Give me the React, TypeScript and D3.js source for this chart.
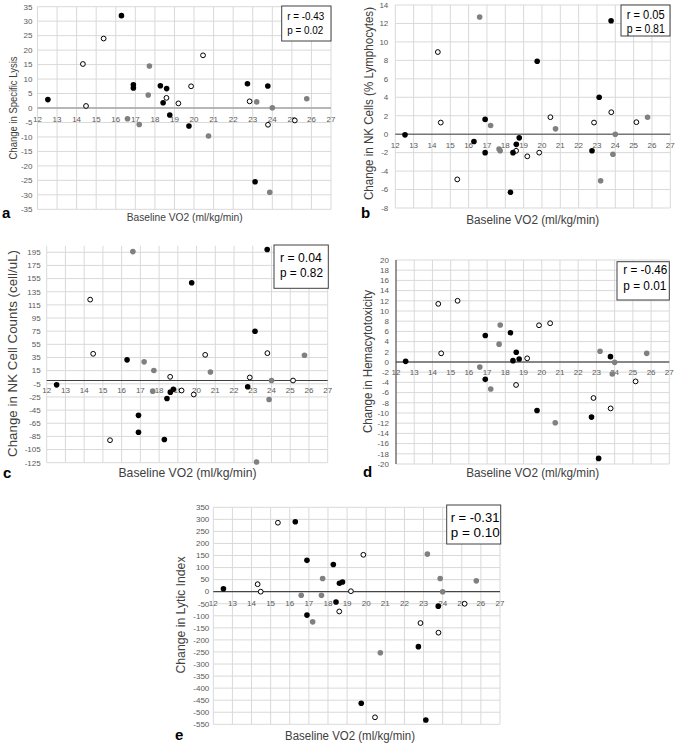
import React from "react";
import * as d3 from "d3";

// ---- Data ----
const X_TICKS = [12, 13, 14, 15, 16, 17, 18, 19, 20, 21, 22, 23, 24, 25, 26, 27];

// Baseline VO2 per subject group
const VO2_BLACK = [12.53, 16.29, 16.9, 16.9, 18.28, 18.42, 18.6, 18.76, 19.74, 22.73, 23.12, 23.77];
const VO2_GRAY = [16.6, 17.2, 17.66, 17.72, 20.74, 23.2, 23.87, 24.0, 25.76];
const VO2_OPEN = [14.32, 14.48, 15.38, 18.59, 19.2, 19.85, 20.46, 22.84, 23.78, 25.15];

// a: Change in Specific Lysis
const LYSIS_BLACK = [2.9, 31.9, 8.0, 6.9, 7.7, 1.8, 6.7, -2.4, -6.2, 8.4, -25.5, 7.6];
const LYSIS_GRAY = [-3.7, -5.7, 4.5, 14.5, -9.7, 2.1, -29.1, 0.1, 3.2];
const LYSIS_OPEN = [15.2, 0.7, 24.0, 3.5, 1.6, 7.5, 18.2, 2.3, -5.8, -4.3];
const LYSIS_TICKS = [-35, -30, -25, -20, -15, -10, -5, 0, 5, 10, 15, 20, 25, 30, 35];

// b: Change in NK Cells (% Lymphocytes)
const NKPCT_BLACK = [-0.07, -0.8, 1.6, -2.0, -6.3, -2.0, -1.1, -0.4, 7.9, -1.8, 4.0, 12.3];
const NKPCT_GRAY = [12.7, 0.94, -1.6, -1.8, 0.58, -5.05, -2.17, 0.0, 1.84];
const NKPCT_OPEN = [8.9, 1.26, -4.9, -1.8, -2.4, -2.0, 1.84, 1.26, 2.38, 1.3];
const NKPCT_TICKS = [-8, -6, -4, -2, 0, 2, 4, 6, 8, 10, 12, 14];

// c: Change in NK Cell Counts (cell/uL)
const NKCNT_BLACK = [-6.6, 31.4, -53, -78.6, -89.8, -27.4, -17.7, -13.2, 148.6, -9.6, 75, 199.3];
const NKCNT_GRAY = [196, 28.4, -16.2, 15.2, 13, -124, -29, 0, 38.5];
const NKCNT_OPEN = [123, 40.6, -90.8, 5.6, -15.2, -21.3, 39, 4.6, 41.6, 0];
const NKCNT_TICKS = [-125, -105, -85, -65, -45, -25, -5, 15, 35, 55, 75, 95, 115, 135, 155, 175, 195];

// d: Change in Hemacytotoxicity
const HEMA_BLACK = [0.13, null, 5.2, -3.4, 5.75, 0.26, 1.9, 0.6, -9.5, -10.8, -18.9, 1.05];
const HEMA_GRAY = [-1.0, -5.3, 3.5, 7.25, -11.9, 2.1, -2.35, -0.07, 1.7];
const HEMA_OPEN = [11.4, 1.7, 12.0, -4.5, 0.72, 7.2, 7.6, -7.06, -9.1, -3.8];
const HEMA_TICKS = [-20, -18, -16, -14, -12, -10, -8, -6, -4, -2, 0, 2, 4, 6, 8, 10, 12, 14, 16, 18, 20];

// e: Change in Lytic Index
const LYTIC_BLACK = [12, 290, 130, -97, 113, -43, 35, 40, -463, -228, -532, -60];
const LYTIC_GRAY = [-15, -125, -15, 55, -253, 156, 55, 0, 45];
const LYTIC_OPEN = [31, 0, 286, -82, 2, 153, -521, -130, -170, -50];
const LYTIC_TICKS = [-550, -500, -450, -400, -350, -300, -250, -200, -150, -100, -50, 0, 50, 100, 150, 200, 250, 300, 350];

const STATS = [
  { r: "r = -0.43", p: "p = 0.02" },
  { r: "r = 0.05", p: "p = 0.81" },
  { r: "r = 0.04", p: "p = 0.82" },
  { r: "r = -0.46", p: "p = 0.01" },
  { r: "r = -0.31", p: "p = 0.10" },
];

const X_TITLE = "Baseline VO2 (ml/kg/min)";

// ---- Layout ----
const FONT = "'Liberation Sans', Arial, sans-serif";

type PanelCfg = {
  letter: string;
  yTitle: string;
  black: (number | null)[];
  gray: number[];
  open: number[];
  yTicks: number[];
  stats: { r: string; p: string };
  x0: number; x1: number;
  yDom: [number, number]; yRange: [number, number];
  zeroColor: string; zeroWidth: number; leftAxis: boolean;
  yLabOff: number; xLabOff: number;
  xt: { cx: number; y: number; len: number; fs: number };
  yt: { x: number; cy: number; len: number; fs: number };
  lbl: { x: number; y: number };
  box: { x0: number; y0: number; x1: number; y1: number; tx: number; b1: number; b2: number; fs: number; rl: number; pl: number };
};

const PANELS: PanelCfg[] = [
  {
    letter: "a", yTitle: "Change in Specific Lysis",
    black: LYSIS_BLACK, gray: LYSIS_GRAY, open: LYSIS_OPEN, yTicks: LYSIS_TICKS, stats: STATS[0],
    x0: 37.5, x1: 331, yDom: [-35, 35], yRange: [209.3, 6.7],
    zeroColor: "#a6a6a6", zeroWidth: 1.6, leftAxis: false, yLabOff: 5, xLabOff: 13.5,
    xt: { cx: 184.7, y: 221, len: 116, fs: 11 },
    yt: { x: 16.5, cy: 108, len: 103, fs: 11 },
    lbl: { x: 2, y: 218 },
    box: { x0: 281.7, y0: 6, x1: 331, y1: 41, tx: 287.3, b1: 19.5, b2: 34, fs: 11.5, rl: 37, pl: 36 },
  },
  {
    letter: "b", yTitle: "Change in NK Cells (% Lymphocytes)",
    black: NKPCT_BLACK, gray: NKPCT_GRAY, open: NKPCT_OPEN, yTicks: NKPCT_TICKS, stats: STATS[1],
    x0: 395.3, x1: 670.3, yDom: [-8, 14], yRange: [208, 5],
    zeroColor: "#404040", zeroWidth: 1, leftAxis: false, yLabOff: 7, xLabOff: 14.3,
    xt: { cx: 532.7, y: 224, len: 133, fs: 12.5 },
    yt: { x: 373, cy: 103.5, len: 193, fs: 12 },
    lbl: { x: 361, y: 218 },
    box: { x0: 621, y0: 5, x1: 670, y1: 36, tx: 626.7, b1: 19.3, b2: 32.7, fs: 12, rl: 38, pl: 38 },
  },
  {
    letter: "c", yTitle: "Change in NK Cell Counts (cell/uL)",
    black: NKCNT_BLACK, gray: NKCNT_GRAY, open: NKCNT_OPEN, yTicks: NKCNT_TICKS, stats: STATS[2],
    x0: 46.7, x1: 327.7, yDom: [-125, 205], yRange: [462.7, 245.7],
    zeroColor: "#404040", zeroWidth: 1, leftAxis: false, yLabOff: 6, xLabOff: 12.5,
    xt: { cx: 187.5, y: 476.5, len: 138, fs: 13 },
    yt: { x: 17, cy: 353.5, len: 207, fs: 12.5 },
    lbl: { x: 3, y: 478 },
    box: { x0: 274, y0: 245, x1: 328.3, y1: 288.3, tx: 280, b1: 261.7, b2: 277.3, fs: 13, rl: 41.7, pl: 43 },
  },
  {
    letter: "d", yTitle: "Change in Hemacytotoxicity",
    black: HEMA_BLACK, gray: HEMA_GRAY, open: HEMA_OPEN, yTicks: HEMA_TICKS, stats: STATS[3],
    x0: 396, x1: 669.3, yDom: [-20, 20], yRange: [464, 260],
    zeroColor: "#222222", zeroWidth: 1, leftAxis: true, yLabOff: 7, xLabOff: 13.2,
    xt: { cx: 532.7, y: 477, len: 133, fs: 12.5 },
    yt: { x: 372, cy: 361.5, len: 143, fs: 12 },
    lbl: { x: 363, y: 477 },
    box: { x0: 617, y0: 261.7, x1: 669.3, y1: 300, tx: 623.3, b1: 274.3, b2: 290, fs: 13, rl: 44, pl: 43 },
  },
  {
    letter: "e", yTitle: "Change in Lytic Index",
    black: LYTIC_BLACK, gray: LYTIC_GRAY, open: LYTIC_OPEN, yTicks: LYTIC_TICKS, stats: STATS[4],
    x0: 213.3, x1: 500, yDom: [-550, 350], yRange: [724.3, 507.3],
    zeroColor: "#222222", zeroWidth: 1, leftAxis: false, yLabOff: 4, xLabOff: 14,
    xt: { cx: 350, y: 740, len: 130, fs: 12.5 },
    yt: { x: 184.5, cy: 615, len: 117, fs: 12.5 },
    lbl: { x: 175, y: 740 },
    box: { x0: 446.7, y0: 505, x1: 500.7, y1: 544, tx: 450.7, b1: 521.7, b2: 537.3, fs: 13.5, rl: 48.7, pl: 49 },
  },
];

const R = 2.8;

function Panel({ c }: { c: PanelCfg }) {
  const x = d3.scaleLinear().domain([12, 27]).range([c.x0, c.x1]);
  const y = d3.scaleLinear().domain(c.yDom).range(c.yRange);
  const yTop = c.yRange[1];
  const yBot = c.yRange[0];
  const y0 = y(0);
  const blackPts = VO2_BLACK.map((v, i) => [v, c.black[i]] as [number, number | null]).filter((d) => d[1] !== null) as [number, number][];
  const grayPts = VO2_GRAY.map((v, i) => [v, c.gray[i]] as [number, number]);
  const openPts = VO2_OPEN.map((v, i) => [v, c.open[i]] as [number, number]);
  return (
    <g>
      {/* gridlines */}
      {c.yTicks.map((t) => (
        <line key={"h" + t} x1={c.x0} x2={c.x1} y1={y(t)} y2={y(t)} stroke="#d9d9d9" strokeWidth={1} />
      ))}
      {X_TICKS.map((t) => (
        <line key={"v" + t} x1={x(t)} x2={x(t)} y1={yTop} y2={yBot} stroke="#d9d9d9" strokeWidth={1} />
      ))}
      {c.leftAxis && <line x1={c.x0} x2={c.x0} y1={yTop} y2={yBot} stroke="#404040" strokeWidth={1} />}
      {/* y tick labels */}
      {c.yTicks.map((t) => (
        <text key={"yl" + t} x={c.x0 - c.yLabOff} y={y(t) + 2.8} textAnchor="end" fontSize={8} fill="#595959" fontFamily={FONT}>
          {t}
        </text>
      ))}
      {/* zero axis */}
      <line x1={c.x0} x2={c.x1} y1={y0} y2={y0} stroke={c.zeroColor} strokeWidth={c.zeroWidth} />
      {/* x tick labels */}
      {X_TICKS.map((t) => (
        <text key={"xl" + t} x={x(t)} y={y0 + c.xLabOff} textAnchor="middle" fontSize={8} fill="#595959" fontFamily={FONT}>
          {t}
        </text>
      ))}
      {/* points */}
      {grayPts.map((d, i) => (
        <circle key={"g" + i} cx={x(d[0])} cy={y(d[1])} r={R} fill="#808080" />
      ))}
      {openPts.map((d, i) => (
        <circle key={"o" + i} cx={x(d[0])} cy={y(d[1])} r={R - 0.4} fill="#ffffff" stroke="#000000" strokeWidth={1} />
      ))}
      {blackPts.map((d, i) => (
        <circle key={"b" + i} cx={x(d[0])} cy={y(d[1])} r={R} fill="#000000" />
      ))}
      {/* stats box */}
      <rect x={c.box.x0} y={c.box.y0} width={c.box.x1 - c.box.x0} height={c.box.y1 - c.box.y0} fill="#ffffff" stroke="#404040" strokeWidth={1} />
      <text x={c.box.tx} y={c.box.b1} fontSize={c.box.fs} fill="#000" fontFamily={FONT} textLength={c.box.rl} lengthAdjust="spacingAndGlyphs">
        {c.stats.r}
      </text>
      <text x={c.box.tx} y={c.box.b2} fontSize={c.box.fs} fill="#000" fontFamily={FONT} textLength={c.box.pl} lengthAdjust="spacingAndGlyphs">
        {c.stats.p}
      </text>
      {/* axis titles */}
      <text x={c.xt.cx - c.xt.len / 2} y={c.xt.y} fontSize={c.xt.fs} fill="#404040" fontFamily={FONT} textLength={c.xt.len} lengthAdjust="spacingAndGlyphs">
        {X_TITLE}
      </text>
      <text
        transform={`translate(${c.yt.x},${c.yt.cy + c.yt.len / 2}) rotate(-90)`}
        fontSize={c.yt.fs}
        fill="#404040"
        fontFamily={FONT}
        textLength={c.yt.len}
        lengthAdjust="spacingAndGlyphs"
      >
        {c.yTitle}
      </text>
      {/* panel letter */}
      <text x={c.lbl.x} y={c.lbl.y} fontSize={15} fontWeight="bold" fill="#000" fontFamily={FONT}>
        {c.letter}
      </text>
    </g>
  );
}

export default function App() {
  return (
    <svg width={676} height={744} viewBox="0 0 676 744" style={{ position: "absolute", left: 0, top: 0, background: "#fff" }}>
      <rect x={0} y={0} width={676} height={744} fill="#ffffff" />
      {PANELS.map((c) => (
        <Panel key={c.letter} c={c} />
      ))}
    </svg>
  );
}
